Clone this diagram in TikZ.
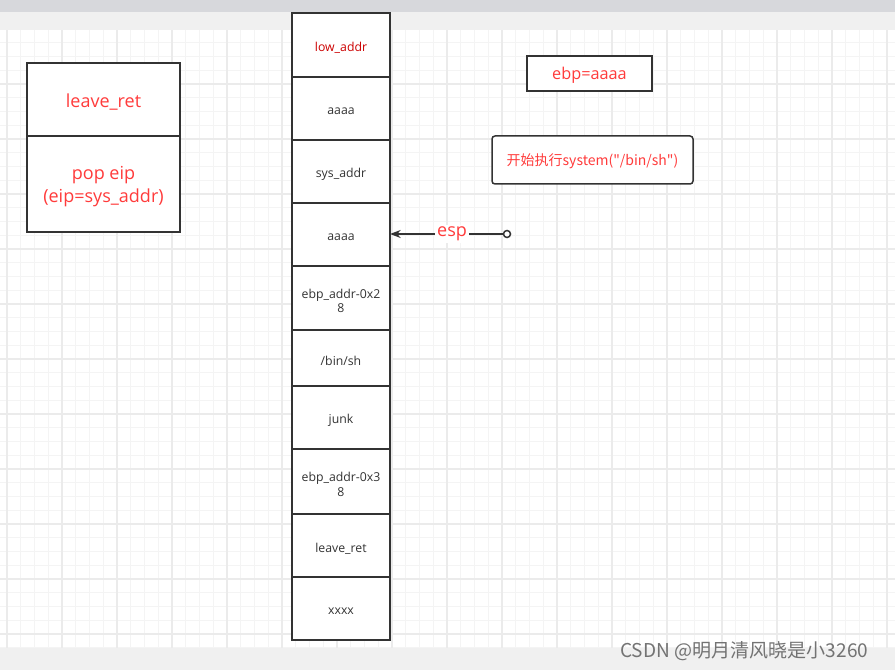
\documentclass[tikz,border=0pt]{standalone}
\usepackage{fontspec}
\setmainfont{Open Sans}
\newfontfamily\cjk{Noto Sans CJK SC}
\usetikzlibrary{arrows.meta}
\definecolor{redtxt}{HTML}{FF3B3B}
\definecolor{darkred}{HTML}{CC0000}
\definecolor{ink}{HTML}{333333}
\definecolor{gridminor}{HTML}{F4F4F4}
\definecolor{gridmajor}{HTML}{EBEBEB}
\definecolor{bandlight}{HTML}{F0F0F0}
\definecolor{banddark}{HTML}{D7D8DC}
\tikzset{
  cell/.style={draw=ink, line width=1.5*0.75pt, fill=white, inner sep=0pt, outer sep=0pt,
    minimum width=98*0.75pt},
  celltext/.style={text=ink, font=\fontsize{9.2}{11}\selectfont, align=center, inner sep=0pt, yshift=-2.2pt},
  bigbox/.style={draw=ink, line width=1.5*0.75pt, fill=white, inner sep=0pt, outer sep=0pt,
    minimum width=153*0.75pt},
  bigtext/.style={text=redtxt, font=\fontsize{13.5}{17.3}\selectfont, align=center, inner sep=0pt, yshift=-1.8pt},
  note/.style={draw=ink, line width=1.5*0.75pt, fill=white, inner sep=0pt, outer sep=0pt},
  notetext/.style={text=redtxt, inner sep=0pt, yshift=-1.2pt},
  gminor/.style={draw=gridminor, line width=0.75pt},
  gmajor/.style={draw=gridmajor, line width=0.9pt},
  pointer/.style={draw=ink, line width=1.5*0.75pt, -{Stealth[length=8pt,width=6pt]}},
}
\begin{document}
\begin{tikzpicture}[x=0.75pt,y=-0.75pt]
\useasboundingbox (0,0) rectangle (895,670);
\fill[white] (0,0) rectangle (895,670);
% grid
\foreach \x in {7,20.75,...,895} \draw[gminor] (\x,30) -- (\x,648);
\foreach \y in {29,42.75,...,648} \draw[gminor] (0,\y) -- (895,\y);
\foreach \x in {7,62,...,895} \draw[gmajor] (\x,30) -- (\x,648);
\foreach \y in {29,84,...,648} \draw[gmajor] (0,\y) -- (895,\y);
% bands
\fill[banddark] (0,0) rectangle (895,12);
\fill[bandlight] (0,12) rectangle (895,30);
\fill[bandlight] (0,648) rectangle (895,670);

% stack
\node[cell, minimum height=64*0.75pt] (r1) at (341,45) {};
\node[cell, minimum height=63*0.75pt] (r2) at (341,108.5) {};
\node[cell, minimum height=63*0.75pt] (r3) at (341,171.5) {};
\node[cell, minimum height=63*0.75pt] (r4) at (341,234.5) {};
\node[cell, minimum height=64*0.75pt] (r5) at (341,298) {};
\node[cell, minimum height=56*0.75pt] (r6) at (341,358) {};
\node[cell, minimum height=63*0.75pt] (r7) at (341,417.5) {};
\node[cell, minimum height=65*0.75pt] (r8) at (341,481.5) {};
\node[cell, minimum height=63*0.75pt] (r9) at (341,545.5) {};
\node[cell, minimum height=63*0.75pt] (r10) at (341,608.5) {};
\node[celltext, text=darkred] (t1) at (r1) {low\_addr};
\node[celltext] (t2) at (r2) {aaaa};
\node[celltext] (t3) at (r3) {sys\_addr};
\node[celltext] (t4) at (r4) {aaaa};
\node[celltext] (t5) at (r5) {ebp\_addr-0x2\\8};
\node[celltext] (t6) at (r6) {/bin/sh};
\node[celltext] (t7) at (r7) {junk};
\node[celltext] (t8) at (r8) {ebp\_addr-0x3\\8};
\node[celltext] (t9) at (r9) {leave\_ret};
\node[celltext] (t10) at (r10) {xxxx};

% left box
\node[bigbox, minimum height=73*0.75pt] (lt) at (103.5,99.5) {};
\node[bigbox, minimum height=96*0.75pt] (lb) at (103.5,184) {};
\node[bigtext] (ltt) at (lt) {leave\_ret};
\node[bigtext] (lbt) at (lb) {pop eip\\(eip=sys\_addr)};

% notes
\node[note, minimum width=125*0.75pt, minimum height=35*0.75pt] (ebp) at (589.5,73.5) {};
\node[notetext, font=\fontsize{12.2}{14}\selectfont] (ebpt) at (ebp) {ebp=aaaa};
\node[note, rounded corners=3*0.75pt, minimum width=201*0.75pt, minimum height=48*0.75pt] (sys) at (592.5,160) {};
\node[notetext, font=\cjk\fontsize{10.5}{12}\selectfont] (syst) at (sys) {开始执行system("/bin/sh")};

% esp pointer
\node[circle, draw=ink, line width=1.5*0.75pt, fill=white, inner sep=0pt, minimum size=7*0.75pt] (esp0) at (507,234) {};
\draw[pointer] (esp0.west) -- node[pos=0.45, fill=white, inner sep=1.5pt, text=redtxt, font=\fontsize{13.5}{15}\selectfont] (esplbl) {esp} (r4.east |- esp0);

% watermark
\node[anchor=west, text=black!55, font=\cjk\fontsize{14.3}{16}\selectfont, inner sep=0pt] (wm) at (620,651) {CSDN @明月清风晓是小3260};
\end{tikzpicture}
\end{document}
